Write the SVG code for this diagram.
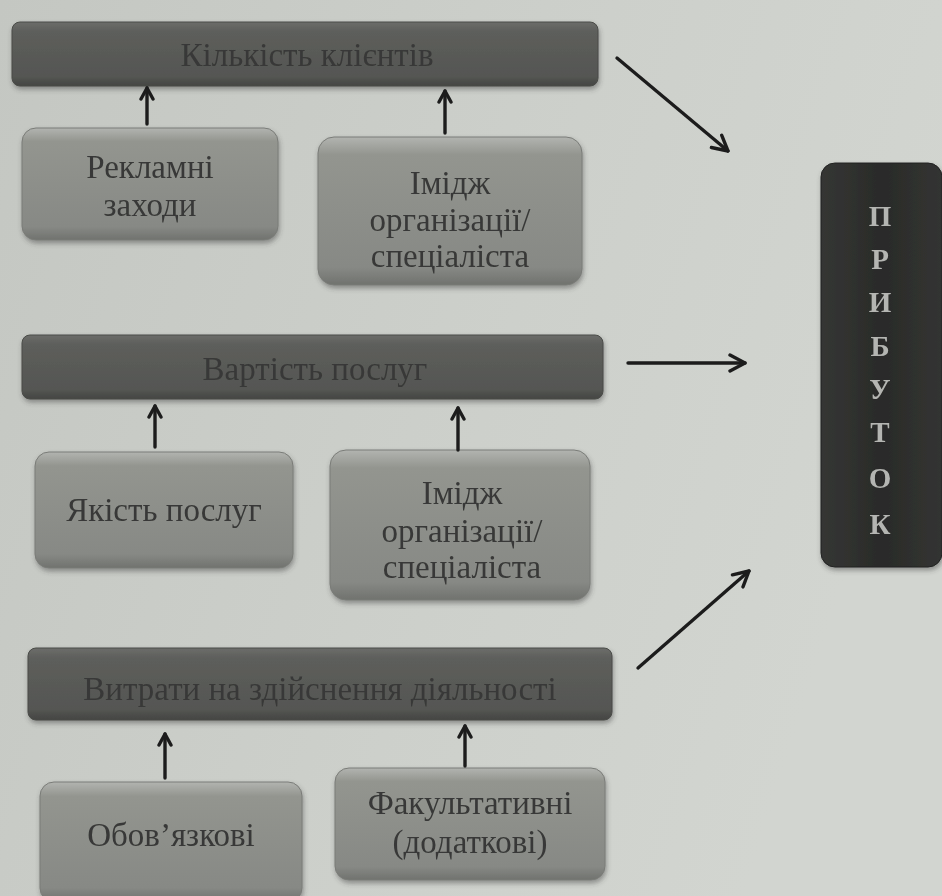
<svg xmlns="http://www.w3.org/2000/svg" width="942" height="896" viewBox="0 0 942 896">
<defs>
<linearGradient id="bg" x1="0" y1="0" x2="1" y2="0.3">
<stop offset="0" stop-color="#c4c7c2"/>
<stop offset="0.6" stop-color="#cdd0cb"/>
<stop offset="1" stop-color="#d2d5d0"/>
</linearGradient>
<linearGradient id="bar" x1="0" y1="0" x2="0" y2="1">
<stop offset="0" stop-color="#6c6d6a"/>
<stop offset="0.15" stop-color="#5d5e5b"/>
<stop offset="0.85" stop-color="#555653"/>
<stop offset="1" stop-color="#444542"/>
</linearGradient>
<linearGradient id="box" x1="0" y1="0" x2="0" y2="1">
<stop offset="0" stop-color="#b2b4b0"/>
<stop offset="0.12" stop-color="#93958f"/>
<stop offset="0.88" stop-color="#878985"/>
<stop offset="1" stop-color="#70726e"/>
</linearGradient>
<linearGradient id="prof" x1="0" y1="0" x2="1" y2="0">
<stop offset="0" stop-color="#353634"/>
<stop offset="0.5" stop-color="#2a2b29"/>
<stop offset="1" stop-color="#333432"/>
</linearGradient>
<filter id="sh" x="-10%" y="-20%" width="120%" height="140%">
<feDropShadow dx="1" dy="3" stdDeviation="2.5" flood-color="#3a3a3a" flood-opacity="0.45"/>
</filter>
<filter id="blur"><feGaussianBlur stdDeviation="0.6"/></filter>
<marker id="ah" viewBox="0 0 16 16" refX="13" refY="8" markerWidth="16" markerHeight="16" markerUnits="userSpaceOnUse" orient="auto">
<path d="M2,2 L13,8 L2,14" fill="none" stroke="#1e1e1e" stroke-width="3.4" stroke-linecap="round" stroke-linejoin="round"/>
</marker>
<marker id="ahs" viewBox="0 0 20 20" refX="17" refY="10" markerWidth="20" markerHeight="20" markerUnits="userSpaceOnUse" orient="auto">
<path d="M2,2 L17,10 L2,18" fill="none" stroke="#1e1e1e" stroke-width="3.4" stroke-linecap="round" stroke-linejoin="round"/>
</marker>
</defs>
<style>
.bar{fill:url(#bar);stroke:#4a4b48;stroke-width:1}
.box{fill:url(#box);stroke:#7a7c78;stroke-width:1}
.bt{font-family:"Liberation Serif","DejaVu Serif",serif;font-size:33px;fill:#383937;text-anchor:middle}
.xt{font-family:"Liberation Serif","DejaVu Serif",serif;font-size:33px;fill:#383937;text-anchor:middle}
.pt{font-family:"Liberation Serif","DejaVu Serif",serif;font-size:29px;font-weight:bold;fill:#b4b5b2;text-anchor:middle}
.c{stroke:#1e1e1e;stroke-width:3.4;fill:none;stroke-linecap:round}
</style>
<rect width="942" height="896" fill="url(#bg)"/>

<g id="n-klienty" filter="url(#sh)">
<rect class="bar" x="12" y="22" width="586" height="64" rx="8"/>
<text class="bt" x="307" y="66">Кількість клієнтів</text>
</g>
<g id="n-reklama" filter="url(#sh)">
<rect class="box" x="22" y="128" width="256" height="112" rx="14"/>
<text class="xt" x="150" y="178">Рекламні</text>
<text class="xt" x="150" y="216">заходи</text>
</g>
<g id="n-imidzh1" filter="url(#sh)">
<rect class="box" x="318" y="137" width="264" height="148" rx="16"/>
<text class="xt" x="450" y="194">Імідж</text>
<text class="xt" x="450" y="231">організації/</text>
<text class="xt" x="450" y="267">спеціаліста</text>
</g>

<g id="n-vartist" filter="url(#sh)">
<rect class="bar" x="22" y="335" width="581" height="64" rx="8"/>
<text class="bt" x="315" y="380">Вартість послуг</text>
</g>
<g id="n-yakist" filter="url(#sh)">
<rect class="box" x="35" y="452" width="258" height="116" rx="14"/>
<text class="xt" x="164" y="521">Якість послуг</text>
</g>
<g id="n-imidzh2" filter="url(#sh)">
<rect class="box" x="330" y="450" width="260" height="150" rx="16"/>
<text class="xt" x="462" y="504">Імідж</text>
<text class="xt" x="462" y="542">організації/</text>
<text class="xt" x="462" y="578">спеціаліста</text>
</g>

<g id="n-vytraty" filter="url(#sh)">
<rect class="bar" x="28" y="648" width="584" height="72" rx="8"/>
<text class="bt" x="320" y="700">Витрати на здійснення діяльності</text>
</g>
<g id="n-oboviazkovi" filter="url(#sh)">
<rect class="box" x="40" y="782" width="262" height="120" rx="14"/>
<text class="xt" x="171" y="846">Обов’язкові</text>
</g>
<g id="n-fakultatyvni" filter="url(#sh)">
<rect class="box" x="335" y="768" width="270" height="112" rx="14"/>
<text class="xt" x="470" y="814">Факультативні</text>
<text class="xt" x="470" y="853">(додаткові)</text>
</g>

<g id="n-prybutok" filter="url(#sh)">
<rect x="821" y="163" width="121" height="404" rx="14" fill="url(#prof)" stroke="#222" stroke-width="1"/>
<text class="pt" x="880" y="226">П</text>
<text class="pt" x="880" y="269">Р</text>
<text class="pt" x="880" y="312">И</text>
<text class="pt" x="880" y="356">Б</text>
<text class="pt" x="880" y="399">У</text>
<text class="pt" x="880" y="442">Т</text>
<text class="pt" x="880" y="488">О</text>
<text class="pt" x="880" y="534">К</text>
</g>

<g id="connectors" filter="url(#blur)">
<line class="c" x1="147" y1="124" x2="147" y2="88" marker-end="url(#ah)"/>
<line class="c" x1="445" y1="133" x2="445" y2="91" marker-end="url(#ah)"/>
<line class="c" x1="155" y1="447" x2="155" y2="406" marker-end="url(#ah)"/>
<line class="c" x1="458" y1="450" x2="458" y2="408" marker-end="url(#ah)"/>
<line class="c" x1="165" y1="778" x2="165" y2="734" marker-end="url(#ah)"/>
<line class="c" x1="465" y1="766" x2="465" y2="726" marker-end="url(#ah)"/>
<line class="c" x1="617" y1="58" x2="728" y2="151" marker-end="url(#ahs)"/>
<line class="c" x1="628" y1="363" x2="745" y2="363" marker-end="url(#ahs)"/>
<line class="c" x1="638" y1="668" x2="749" y2="571" marker-end="url(#ahs)"/>
</g>
</svg>
